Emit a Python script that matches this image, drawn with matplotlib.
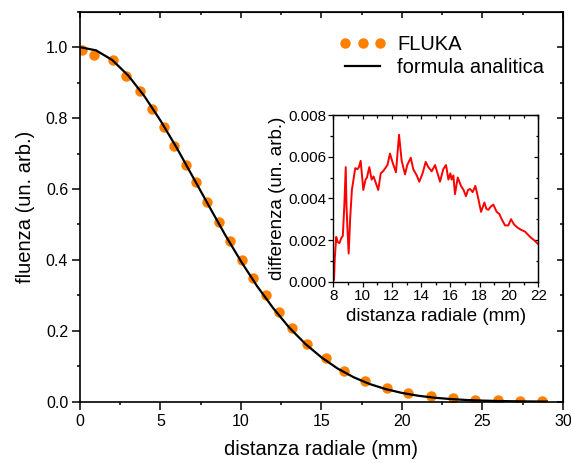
import numpy as np
import matplotlib
matplotlib.use('Agg')
import matplotlib.pyplot as plt
from matplotlib.ticker import MultipleLocator, FormatStrFormatter

plt.rcParams['font.family'] = ['Liberation Sans', 'DejaVu Sans']

# FLUKA points (main plot)
fluka_r = [0.1, 0.89, 2.03, 2.84, 3.73, 4.46, 5.19, 5.85, 6.6, 7.22, 7.92, 8.61,
           9.33, 10.04, 10.75, 11.53, 12.34, 13.19, 14.12, 15.26, 16.41, 17.72,
           19.08, 20.39, 21.78, 23.19, 24.55, 25.96, 27.33, 28.7]
fluka_f = [0.993, 0.977, 0.963, 0.918, 0.876, 0.826, 0.774, 0.722, 0.667, 0.62,
           0.563, 0.506, 0.454, 0.4, 0.349, 0.3, 0.252, 0.208, 0.164, 0.122,
           0.087, 0.059, 0.038, 0.025, 0.016, 0.0095, 0.006, 0.004, 0.003, 0.002]

# analytic curve
formula_r = list(range(0, 30))
formula_f = [1.0, 0.991, 0.964, 0.92, 0.862, 0.793, 0.717, 0.635, 0.553, 0.472,
             0.396, 0.326, 0.264, 0.209, 0.163, 0.125, 0.0936, 0.0689, 0.0498,
             0.0354, 0.0247, 0.0169, 0.0113, 0.0075, 0.0048, 0.0031, 0.0019,
             0.0012, 0.0007, 0.0004]

# inset: difference (units of 1e-3)
diff_r = [8.05, 8.1, 8.2, 8.3, 8.42, 8.55, 8.65, 8.75, 8.85, 8.9, 8.95, 9.05,
          9.15, 9.27, 9.4, 9.5, 9.65, 9.75, 9.87, 10.05, 10.2, 10.3, 10.46,
          10.62, 10.75, 10.85, 11.07, 11.24, 11.4, 11.55, 11.7, 11.87, 12.06,
          12.28, 12.49, 12.67, 12.9, 13.05, 13.29, 13.46, 13.7, 13.87, 14.1,
          14.31, 14.49, 14.72, 14.95, 15.29, 15.51, 15.7, 15.86, 16.0, 16.08,
          16.2, 16.31, 16.5, 16.72, 16.9, 17.06, 17.2, 17.34, 17.52, 17.7,
          17.9, 18.09, 18.32, 18.45, 18.59, 18.75, 18.93, 19.16, 19.34, 19.5,
          19.73, 19.95, 20.14, 20.34, 20.57, 20.8, 21.1, 21.44, 21.7, 22.0]
diff_e3 = [0.1, 1.1, 2.15, 1.9, 1.85, 2.1, 2.2, 3.6, 5.5, 3.7, 2.8, 1.35,
           3.0, 4.4, 5.0, 5.45, 5.4, 5.5, 5.8, 4.4, 4.9, 5.0, 5.5,
           4.9, 5.05, 4.85, 4.4, 5.2, 5.3, 5.45, 5.6, 6.15, 5.7,
           5.25, 7.05, 5.8, 5.15, 5.6, 5.95, 5.4, 5.1, 4.8, 5.2,
           5.75, 5.5, 5.3, 5.6, 4.8, 5.4, 5.6, 4.9, 5.2, 4.9,
           5.1, 4.2, 5.0, 4.6, 4.4, 4.1, 4.4, 4.45, 4.3, 4.6,
           4.0, 3.35, 3.8, 3.5, 3.45, 3.6, 3.7, 3.35, 3.25, 3.0,
           2.7, 2.7, 3.0, 2.75, 2.6, 2.5, 2.4, 2.15, 2.0, 1.8]

fig = plt.figure(figsize=(5.71, 4.63), dpi=100)
ax = fig.add_axes([0.140, 0.1324, 0.846, 0.8423])

ax.plot(fluka_r, fluka_f, 'o', color='#FF8000', markersize=7.5, markeredgewidth=0,
        label='FLUKA')
ax.plot(formula_r, formula_f, '-', color='black', linewidth=1.6,
        label='formula analitica')

ax.set_xlim(0, 30)
ax.set_ylim(0, 1.1)
ax.xaxis.set_major_locator(MultipleLocator(5))
ax.xaxis.set_minor_locator(MultipleLocator(2.5))
ax.yaxis.set_minor_locator(MultipleLocator(0.1))
ax.yaxis.set_major_formatter(FormatStrFormatter('%.1f'))
ax.set_yticks([0, 0.2, 0.4, 0.6, 0.8, 1.0])

for s in ax.spines.values():
    s.set_linewidth(1.2)
ax.tick_params(which='both', direction='out', top=False, right=False, width=1.1,
               labelsize=11.5, pad=3)
ax.tick_params(which='major', length=5.5)
ax.tick_params(which='minor', length=2.5)

# mirrored ticks pointing in
sec_x = ax.secondary_xaxis('top')
sec_x.xaxis.set_major_locator(MultipleLocator(5))
sec_x.xaxis.set_minor_locator(MultipleLocator(2.5))
sec_x.tick_params(which='both', direction='in', labeltop=False, width=1.1)
sec_x.tick_params(which='major', length=4.5)
sec_x.tick_params(which='minor', length=2.5)
sec_y = ax.secondary_yaxis('right')
sec_y.yaxis.set_major_locator(MultipleLocator(0.2))
sec_y.yaxis.set_minor_locator(MultipleLocator(0.1))
sec_y.tick_params(which='both', direction='in', labelright=False, width=1.1)
sec_y.tick_params(which='major', length=4.5)
sec_y.tick_params(which='minor', length=2.5)

ax.set_xlabel('distanza radiale (mm)', fontsize=14.5, labelpad=8)
ax.set_ylabel('fluenza (un. arb.)', fontsize=14.5, labelpad=8)

ax.legend(loc='upper left', bbox_to_anchor=(0.5937, 0.924),
          bbox_transform=fig.transFigure, frameon=False, fontsize=14.5,
          numpoints=3, handlelength=2.35, handletextpad=0.55, labelspacing=0.2,
          borderpad=0, borderaxespad=0)

# inset
ins = fig.add_axes([0.5837, 0.3916, 0.359, 0.360])
ins.plot(diff_r, np.array(diff_e3) * 1e-3, color='red', linewidth=1.4)
ins.set_xlim(8, 22)
ins.set_ylim(0, 0.008)
ins.xaxis.set_major_locator(MultipleLocator(2))
ins.xaxis.set_minor_locator(MultipleLocator(1))
ins.yaxis.set_major_locator(MultipleLocator(0.002))
ins.yaxis.set_minor_locator(MultipleLocator(0.001))
ins.yaxis.set_major_formatter(FormatStrFormatter('%.3f'))
for s in ins.spines.values():
    s.set_linewidth(1.0)
ins.tick_params(which='both', direction='out', top=False, right=False, width=0.9,
                labelsize=11, pad=1.5)
ins.tick_params(which='major', length=3.5)
ins.tick_params(which='minor', length=2)
isx = ins.secondary_xaxis('top')
isx.xaxis.set_major_locator(MultipleLocator(2))
isx.xaxis.set_minor_locator(MultipleLocator(1))
isx.tick_params(which='both', direction='in', labeltop=False, width=0.9)
isx.tick_params(which='major', length=3)
isx.tick_params(which='minor', length=1.8)
isy = ins.secondary_yaxis('right')
isy.yaxis.set_major_locator(MultipleLocator(0.002))
isy.yaxis.set_minor_locator(MultipleLocator(0.001))
isy.tick_params(which='both', direction='in', labelright=False, width=0.9)
isy.tick_params(which='major', length=3)
isy.tick_params(which='minor', length=1.8)
ins.set_xlabel('distanza radiale (mm)', fontsize=13.5, labelpad=4)
ins.set_ylabel('differenza (un. arb.)', fontsize=13.5, labelpad=1.5)

fig.savefig('out.png', dpi=100)
